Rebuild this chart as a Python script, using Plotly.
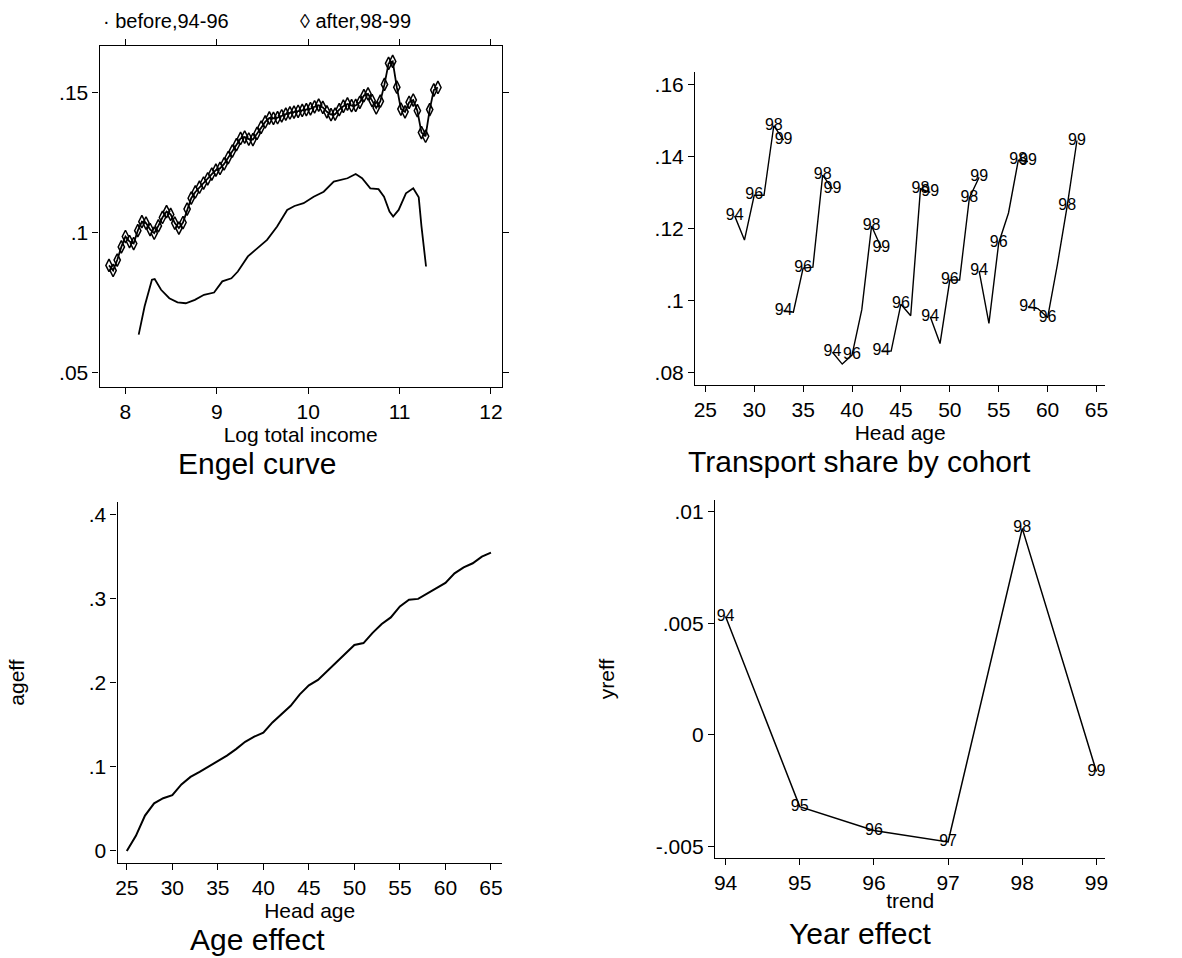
import plotly.graph_objects as go

W, H = 1182, 958
FONT = "Arial, Liberation Sans, sans-serif"

# ---------------- Engel curve ----------------
engel_before_x = [8.145, 8.21, 8.29, 8.32, 8.39, 8.48, 8.57, 8.66, 8.76, 8.86, 8.97, 9.06,
                  9.16, 9.23, 9.34, 9.45, 9.55, 9.66, 9.77, 9.85, 9.95, 10.06, 10.17, 10.28,
                  10.35, 10.43, 10.52, 10.59, 10.68, 10.77, 10.83, 10.89, 10.93, 10.99, 11.07,
                  11.15, 11.21, 11.24, 11.29]
engel_before_y = [0.0637, 0.0738, 0.0833, 0.0835, 0.0797, 0.0767, 0.0752, 0.0749, 0.0761, 0.0779,
                  0.0787, 0.0827, 0.0838, 0.0862, 0.0916, 0.0948, 0.0975, 0.1023, 0.1082, 0.1096,
                  0.1106, 0.1129, 0.1147, 0.1183, 0.1189, 0.1195, 0.1210, 0.1195, 0.1159, 0.1156,
                  0.1129, 0.1076, 0.1058, 0.1082, 0.1141, 0.1159, 0.1127, 0.1023, 0.0880]

engel_after_x = [7.82, 7.865, 7.91, 7.955, 8.00, 8.045, 8.09, 8.135, 8.18, 8.225, 8.27, 8.315,
                 8.36, 8.405, 8.45, 8.495, 8.54, 8.585, 8.63, 8.675, 8.72, 8.765, 8.81, 8.855,
                 8.90, 8.945, 8.99, 9.035, 9.08, 9.125, 9.17, 9.215, 9.26, 9.305, 9.35, 9.395,
                 9.44, 9.485, 9.53, 9.575, 9.62, 9.665, 9.71, 9.755, 9.80, 9.845, 9.89, 9.935,
                 9.98, 10.025, 10.07, 10.115, 10.16, 10.205, 10.25, 10.295, 10.34, 10.385, 10.43,
                 10.475, 10.52, 10.565, 10.61, 10.655, 10.70, 10.745, 10.79, 10.835, 10.88, 10.925,
                 10.97, 11.015, 11.06, 11.105, 11.15, 11.195, 11.24, 11.285, 11.33, 11.375, 11.42]
engel_after_y = [0.0884, 0.0866, 0.0903, 0.0950, 0.0987, 0.0969, 0.0962, 0.1008, 0.1040, 0.1035,
                 0.1012, 0.0999, 0.1025, 0.1055, 0.1076, 0.1066, 0.1035, 0.1017, 0.1037, 0.1085,
                 0.1124, 0.1146, 0.1163, 0.1178, 0.1193, 0.1210, 0.1224, 0.1230, 0.1246, 0.1269,
                 0.1292, 0.1315, 0.1337, 0.1342, 0.1335, 0.1333, 0.1355, 0.1377, 0.1396, 0.1410,
                 0.1409, 0.1411, 0.1418, 0.1424, 0.1428, 0.1431, 0.1434, 0.1437, 0.1440, 0.1443,
                 0.1450, 0.1456, 0.1448, 0.1432, 0.1422, 0.1424, 0.1440, 0.1452, 0.1460, 0.1454,
                 0.1455, 0.1466, 0.1490, 0.1496, 0.1472, 0.1446, 0.1470, 0.1530, 0.1605, 0.1612,
                 0.1520, 0.1442, 0.1432, 0.1466, 0.1474, 0.1436, 0.1358, 0.1345, 0.1440, 0.1510,
                 0.1519]

engel_xticks = [8, 9, 10, 11, 12]
engel_yticks = [0.05, 0.10, 0.15]
engel_yticklabels = [".05", ".1", ".15"]

# ---------------- Transport share by cohort ----------------
cohort_ages = [
    [28, 29, 30, 31, 32, 33],
    [33, 34, 35, 36, 37, 38],
    [38, 39, 40, 41, 42, 43],
    [43, 44, 45, 46, 47, 48],
    [48, 49, 50, 51, 52, 53],
    [53, 54, 55, 56, 57, 58],
    [58, 59, 60, 61, 62, 63],
]
cohort_shares = [
    [0.1235, 0.1168, 0.1292, 0.1292, 0.1485, 0.1445],
    [0.0972, 0.0968, 0.1090, 0.1093, 0.1348, 0.1310],
    [0.0857, 0.0824, 0.0849, 0.0975, 0.1207, 0.1146],
    [0.0860, 0.0860, 0.0990, 0.0958, 0.1310, 0.1300],
    [0.0955, 0.0881, 0.1057, 0.1057, 0.1285, 0.1342],
    [0.1082, 0.0937, 0.1160, 0.1243, 0.1389, 0.1386],
    [0.0983, 0.0978, 0.0953, 0.1100, 0.1262, 0.1444],
]
cohort_year_labels = ["94", "", "96", "", "98", "99"]
cohort_xticks = [25, 30, 35, 40, 45, 50, 55, 60, 65]
cohort_yticks = [0.08, 0.10, 0.12, 0.14, 0.16]
cohort_yticklabels = [".08", ".1", ".12", ".14", ".16"]

# ---------------- Age effect ----------------
age_effect_age = [25, 26, 27, 28, 29, 30, 31, 32, 33, 34, 35, 36, 37, 38, 39, 40, 41, 42, 43, 44,
                  45, 46, 47, 48, 49, 50, 51, 52, 53, 54, 55, 56, 57, 58, 59, 60, 61, 62, 63, 64, 65]
age_effect_val = [0.0000, 0.0180, 0.0420, 0.0566, 0.0627, 0.0662, 0.0790, 0.0880, 0.0940, 0.1005,
                  0.1075, 0.1132, 0.1210, 0.1297, 0.1358, 0.1405, 0.1527, 0.1624, 0.1725, 0.1860,
                  0.1967, 0.2033, 0.2137, 0.2247, 0.2350, 0.2447, 0.2470, 0.2591, 0.2697, 0.2775,
                  0.2905, 0.2985, 0.2995, 0.3060, 0.3118, 0.3185, 0.3298, 0.3370, 0.3418, 0.3497,
                  0.3545]
age_xticks = [25, 30, 35, 40, 45, 50, 55, 60, 65]
age_yticks = [0.0, 0.1, 0.2, 0.3, 0.4]
age_yticklabels = ["0", ".1", ".2", ".3", ".4"]

# ---------------- Year effect ----------------
year_trend = [94, 95, 96, 97, 98, 99]
year_effect = [0.00530, -0.00321, -0.00428, -0.00479, 0.00925, -0.00164]
year_labels = ["94", "95", "96", "97", "98", "99"]
year_yticks = [-0.005, 0.0, 0.005, 0.01]
year_yticklabels = ["-.005", "0", ".005", ".01"]


def xd(p0, p1):
    return [p0 / W, p1 / W]


def yd(top, bottom):
    return [1 - bottom / H, 1 - top / H]


fig = go.Figure()

# Engel
fig.add_trace(go.Scatter(x=engel_before_x, y=engel_before_y, mode="lines",
                         line=dict(color="black", width=1.8), name="before,94-96",
                         xaxis="x", yaxis="y"))
fig.add_trace(go.Scatter(x=engel_after_x, y=engel_after_y, mode="lines+markers",
                         line=dict(color="black", width=1.8),
                         marker=dict(symbol="diamond-tall-open", size=9, color="black",
                                     line=dict(width=1.5, color="black")),
                         name="after,98-99", xaxis="x", yaxis="y"))

lab_font = dict(family=FONT, size=16, color="black")

# Cohorts
for ages, shares in zip(cohort_ages, cohort_shares):
    fig.add_trace(go.Scatter(x=ages, y=shares, mode="lines+text", text=cohort_year_labels,
                             textposition="middle center", textfont=lab_font,
                             line=dict(color="black", width=1.4),
                             xaxis="x2", yaxis="y2", showlegend=False))

# Age effect
fig.add_trace(go.Scatter(x=age_effect_age, y=age_effect_val, mode="lines",
                         line=dict(color="black", width=2), xaxis="x3", yaxis="y3"))

# Year effect
fig.add_trace(go.Scatter(x=year_trend, y=year_effect, mode="lines+text", text=year_labels,
                         textposition="middle center", textfont=lab_font,
                         line=dict(color="black", width=1.5), xaxis="x4", yaxis="y4"))

base = dict(showline=True, linecolor="black", linewidth=1.2, ticks="outside", ticklen=6,
            tickcolor="black", tickwidth=1.2, showgrid=False, zeroline=False,
            tickfont=dict(family=FONT, size=21, color="black"))
tfont = dict(family=FONT, size=21, color="black")

fig.update_layout(
    width=W, height=H, margin=dict(l=0, r=0, t=0, b=0),
    paper_bgcolor="white", plot_bgcolor="white", showlegend=False,
    font=dict(family=FONT, color="black"),
    xaxis=dict(base, domain=xd(98, 502), range=[7.717, 12.12], tickvals=engel_xticks,
               ticktext=[str(v) for v in engel_xticks], mirror="allticks", anchor="y",
               title=dict(text="Log total income", font=tfont, standoff=0)),
    yaxis=dict(base, domain=yd(46, 387), range=[0.045, 0.1667], tickvals=engel_yticks,
               ticktext=engel_yticklabels, mirror="allticks", anchor="x"),
    xaxis2=dict(base, domain=xd(696, 1108), range=[23.95, 65.9], tickvals=cohort_xticks,
                ticktext=[str(v) for v in cohort_xticks], anchor="y2",
                title=dict(text="Head age", font=tfont, standoff=0)),
    yaxis2=dict(base, domain=yd(72, 385), range=[0.0766, 0.1634], tickvals=cohort_yticks,
                ticktext=cohort_yticklabels, anchor="x2"),
    xaxis3=dict(base, domain=xd(116, 502), range=[23.98, 66.2], tickvals=age_xticks,
                ticktext=[str(v) for v in age_xticks], anchor="y3",
                title=dict(text="Head age", font=tfont, standoff=0)),
    yaxis3=dict(base, domain=yd(502, 863), range=[-0.0143, 0.4146], tickvals=age_yticks,
                ticktext=age_yticklabels, anchor="x3",
                title=dict(text="ageff", font=tfont, standoff=58)),
    xaxis4=dict(base, domain=xd(716, 1108), range=[93.857, 99.12], tickvals=year_trend,
                ticktext=[str(v) for v in year_trend], anchor="y4",
                title=dict(text="trend", font=tfont, standoff=0)),
    yaxis4=dict(base, domain=yd(500, 858), range=[-0.00551, 0.01052], tickvals=year_yticks,
                ticktext=year_yticklabels, anchor="x4",
                title=dict(text="yreff", font=tfont, standoff=35)),
)

title_font = dict(family=FONT, size=30, color="black")
for txt, px, py in [("Engel curve", 256, 463), ("Transport share by cohort", 861, 462),
                    ("Age effect", 257, 939), ("Year effect", 862, 933)]:
    fig.add_annotation(text=txt, x=px / W, y=1 - py / H, xref="paper", yref="paper",
                       xanchor="center", yanchor="middle", showarrow=False, font=title_font)

leg_font = dict(family=FONT, size=20, color="black")
fig.add_annotation(text="\u00b7 before,94-96", x=99 / W, y=1 - 21 / H, xref="paper", yref="paper",
                   xanchor="left", yanchor="middle", showarrow=False, font=leg_font)
fig.add_annotation(text="\u25ca after,98-99", x=297 / W, y=1 - 21 / H, xref="paper", yref="paper",
                   xanchor="left", yanchor="middle", showarrow=False, font=leg_font)

fig.write_html("out.html", config={"displayModeBar": False},
               post_script="document.body.style.margin='0px';")
